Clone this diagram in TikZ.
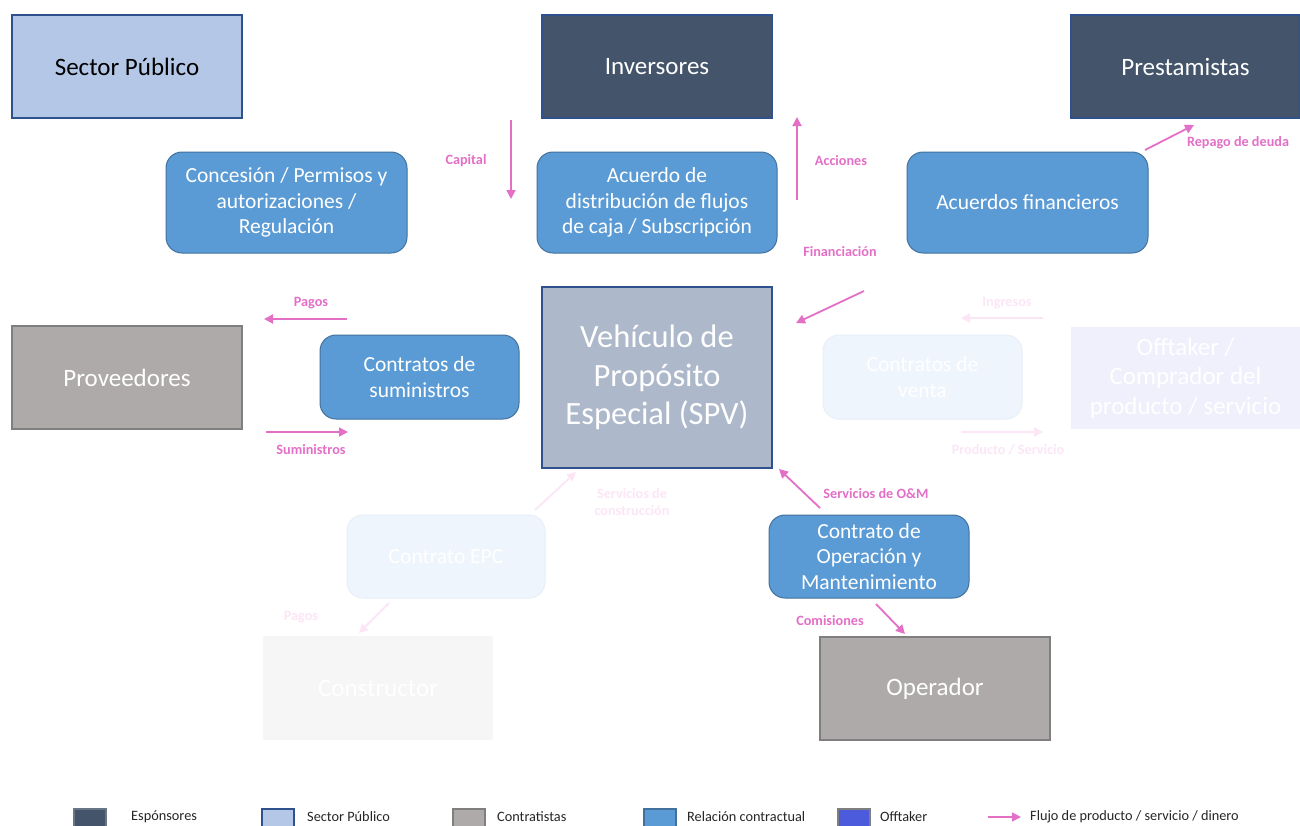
\documentclass[tikz,border=0pt]{standalone}
\usepackage{fontspec}
\setmainfont{Carlito}
\usetikzlibrary{arrows.meta}
\pgfdeclarelayer{back}
\pgfdeclarelayer{lines}
\pgfsetlayers{back,lines,main}
\definecolor{dk}{HTML}{44546A}
\definecolor{spub}{HTML}{B4C7E7}
\definecolor{bord}{HTML}{2F528F}
\definecolor{grayf}{HTML}{AEAAAA}
\definecolor{grayb}{HTML}{7F7F7F}
\definecolor{rel}{HTML}{5B9BD5}
\definecolor{relb}{HTML}{41719C}
\definecolor{spvf}{HTML}{ADB9CA}
\definecolor{offt}{HTML}{4B5BDB}
\definecolor{orl}{HTML}{F4A36E}
\definecolor{orf}{HTML}{FBD9C0}
\definecolor{orff}{HTML}{FDEEE3}
\definecolor{pk}{HTML}{E36FC7}
\definecolor{pkf}{HTML}{FCE6F6}
\definecolor{fadebox}{HTML}{EFF5FC}
\definecolor{fadeboxb}{HTML}{E8EFF9}
\definecolor{fadeoff}{HTML}{EFF0FC}
\definecolor{fadegray}{HTML}{F6F6F6}
\definecolor{fadebg}{HTML}{FCFCFC}
\tikzset{
  entity/.style={rectangle, minimum width=230pt, minimum height=103pt, line width=1.2pt,
    font=\fontsize{25}{30}\selectfont, text=white, align=center, inner sep=0pt},
  contract/.style={rectangle, rounded corners=16pt, fill=rel, draw=relb, line width=1pt,
    text=white, align=center, font=\fontsize{21.5}{25.8}\selectfont, inner sep=0pt},
  fadecontract/.style={contract, fill=fadebox, draw=fadeboxb},
  conn/.style={draw=orl, line width=1pt},
  flow/.style={draw=pk, line width=1.8pt, -{Triangle[length=9pt,width=9pt]}},
  fadeflow/.style={flow, draw=pkf},
  flowlbl/.style={text=pk, font=\fontsize{14.2}{17}\selectfont\bfseries, inner sep=0pt, align=center},
  fadelbl/.style={flowlbl, text=pkf},
  legbox/.style={rectangle, minimum width=32pt, minimum height=18pt, line width=1.2pt, inner sep=0pt},
  legtxt/.style={anchor=west, font=\fontsize{14.3}{16}\selectfont, inner sep=0pt, text=black!85}
}
\begin{document}
\begin{tikzpicture}[x=1pt,y=-1pt]
\useasboundingbox[fill=white] (0,0) rectangle (1300,825);
\begin{pgfonlayer}{back}
  \fill[fadebg] (227,471) rectangle (718,757);
  \fill[fadebg] (920,270) rectangle (1300,473);
  \fill[fadebg] (820,320) rectangle (1300,473);
\end{pgfonlayer}

% entities
\node[entity, fill=spub, draw=bord, text=black] (sp) at (127,66.5) {Sector Público};
\node[entity, fill=dk, draw=bord] (inv) at (657,66.5) {Inversores};
\node[entity, fill=dk, draw=bord, minimum width=229pt] (pre) at (1185.5,66.5) {Prestamistas};
\node[entity, fill=spvf, draw=bord, minimum height=181pt, font=\fontsize{32.5}{38.5}\selectfont] (spv) at (657,377.5) {Vehículo de\\Propósito\\Especial (SPV)};
\node[entity, fill=grayf, draw=grayb] (prov) at (127,377.5) {Proveedores};
\node[entity, fill=fadeoff, draw=none, minimum width=229pt, minimum height=102pt, font=\fontsize{25}{29.5}\selectfont] (off) at (1185.5,378) {Offtaker /\\Comprador del\\producto / servicio};
\node[entity, fill=grayf, draw=grayb] (op) at (935,688.5) {Operador};
\node[entity, fill=fadegray, draw=none, minimum height=104pt] (cons) at (378,688) {Constructor};

% contracts
\node[contract, minimum width=241pt, minimum height=101pt] (conc) at (286.5,202.5) {Concesión / Permisos y\\autorizaciones /\\Regulación};
\node[contract, minimum width=240pt, minimum height=101pt] (acu) at (657,202.5) {Acuerdo de\\distribución de flujos\\de caja / Subscripción};
\node[contract, minimum width=241pt, minimum height=101pt] (fin) at (1027.5,202.5) {Acuerdos financieros};
\node[contract, minimum width=199pt, minimum height=84pt] (sum) at (419.5,377) {Contratos de\\suministros};
\node[fadecontract, minimum width=199pt, minimum height=84pt] (venta) at (922.5,377) {Contratos de\\venta};
\node[contract, minimum width=200pt, minimum height=83pt] (om) at (869,556.5) {Contrato de\\Operación y\\Mantenimiento};
\node[fadecontract, minimum width=198pt, minimum height=83pt] (epc) at (446,556.5) {Contrato EPC};

% connectors
\begin{pgfonlayer}{lines}
  \draw[conn] (sp.south) -- (spv);
  \draw[conn] (inv) -- (spv);
  \draw[conn] (pre.south) -- (spv);
  \draw[conn] (prov) -- (spv);
  \draw[conn] (spv) -- (op.north);
  \draw[conn, draw=orf] (spv) -- (venta);
  \draw[conn, draw=orff] (venta) -- (off);
  \draw[conn, draw=orff] (spv) -- (cons.north);
\end{pgfonlayer}

% flows
\coordinate (capA) at (511,120); \coordinate (capB) at (511,199);
\draw[flow] (capA) -- (capB);
\node[flowlbl] (capL) at (466,161) {Capital};
\coordinate (accA) at (797,200); \coordinate (accB) at (797,117);
\draw[flow] (accA) -- (accB);
\node[flowlbl] (accL) at (841,161) {Acciones};
\coordinate (repA) at (1145,150); \coordinate (repB) at (1194,125);
\draw[flow] (repA) -- (repB);
\node[flowlbl] (repL) at (1238,143) {Repago de deuda};
\coordinate (finA) at (864,291); \coordinate (finB) at (796,323);
\draw[flow] (finA) -- (finB);
\node[flowlbl] (finL) at (840,252) {Financiación};
\coordinate (pagA) at (347,319); \coordinate (pagB) at (264,319);
\draw[flow] (pagA) -- (pagB);
\node[flowlbl] (pagL) at (311,303) {Pagos};
\coordinate (suA) at (266,432); \coordinate (suB) at (348,432);
\draw[flow] (suA) -- (suB);
\node[flowlbl] (suL) at (311,450) {Suministros};
\coordinate (somA) at (820,508); \coordinate (somB) at (779,469);
\draw[flow] (somA) -- (somB);
\node[flowlbl] (somL) at (876,494) {Servicios de O\&M};
\coordinate (comA) at (876,604); \coordinate (comB) at (905,634);
\draw[flow] (comA) -- (comB);
\node[flowlbl] (comL) at (830,621) {Comisiones};
% faded flows
\coordinate (scA) at (535,510); \coordinate (scB) at (576,472);
\draw[fadeflow] (scA) -- (scB);
\node[fadelbl] (scL) at (632,502) {Servicios de\\construcción};
\coordinate (cpA) at (389,603); \coordinate (cpB) at (359,633);
\draw[fadeflow] (cpA) -- (cpB);
\node[fadelbl] (cpL) at (301,617) {Pagos};
\coordinate (ingA) at (1043,318); \coordinate (ingB) at (961,318);
\draw[fadeflow] (ingA) -- (ingB);
\node[fadelbl] (ingL) at (1007,303) {Ingresos};
\coordinate (psA) at (961,432); \coordinate (psB) at (1043,432);
\draw[fadeflow] (psA) -- (psB);
\node[fadelbl] (psL) at (1008,450) {Producto / Servicio};

% legend
\begin{scope}
\clip (0,0) rectangle (1300,825);
\node[legbox, fill=dk, draw=dk!80!white] (lg1) at (90,818) {};
\node[legtxt] (lt1) at (131,817) {Espónsores};
\node[legbox, fill=spub, draw=bord] (lg2) at (278,818) {};
\node[legtxt] (lt2) at (307,817) {Sector Público};
\node[legbox, fill=grayf, draw=grayb] (lg3) at (469,818) {};
\node[legtxt] (lt3) at (497,817) {Contratistas};
\node[legbox, fill=rel, draw=relb] (lg4) at (660,818) {};
\node[legtxt] (lt4) at (687,817) {Relación contractual};
\node[legbox, fill=offt, draw=grayb] (lg5) at (854,818) {};
\node[legtxt] (lt5) at (880,817) {Offtaker};
\coordinate (lfA) at (988,817); \coordinate (lfB) at (1021,817);
\draw[flow, line width=1.5pt] (lfA) -- (lfB);
\node[legtxt] (lt6) at (1030,817) {Flujo de producto / servicio / dinero};
\end{scope}
\end{tikzpicture}
\end{document}
